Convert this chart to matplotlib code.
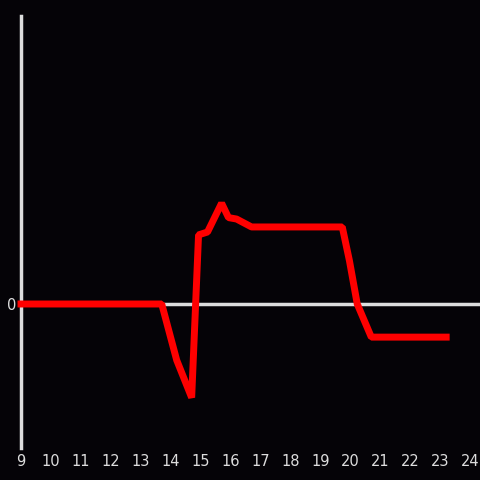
import matplotlib
matplotlib.use("Agg")
import matplotlib.pyplot as plt

x_hours = [9, 13.7, 14.2, 14.7, 14.93, 15.23, 15.7, 15.93, 16.2, 16.7, 19.73, 19.97, 20.23, 20.7, 23.2]
y_vals = [0, 0, -0.39, -0.65, 0.48, 0.5, 0.70, 0.60, 0.59, 0.535, 0.535, 0.3, 0, -0.23, -0.23]
x_ticks = list(range(9, 25))

bg = "#050307"
fg = "#dddddd"

fig = plt.figure(figsize=(4.8, 4.8), dpi=100, facecolor=bg)
ax = fig.add_axes([21/480, 32/480, 1 - 21/480, 432/480], facecolor=bg)
ax.axhline(0, color=fg, lw=2.5, zorder=1)
ax.plot(x_hours, y_vals, color="#ff0000", lw=5, zorder=5, solid_joinstyle="bevel",
        solid_capstyle="projecting", clip_on=False)
ax.set_xlim(9, 24.33)
ax.set_ylim(-1, 2)
ax.set_xticks(x_ticks)
ax.set_yticks([0])
ax.set_yticklabels(["0"])
for s in ["top", "right", "bottom"]:
    ax.spines[s].set_visible(False)
ax.spines["left"].set_color(fg)
ax.spines["left"].set_linewidth(2.5)
ax.spines["left"].set_zorder(2)
ax.tick_params(length=0, colors=fg, labelsize=10.5, pad=4)
ax.tick_params(axis="y", pad=3)
fig.savefig("out.png", dpi=100, facecolor=bg)
